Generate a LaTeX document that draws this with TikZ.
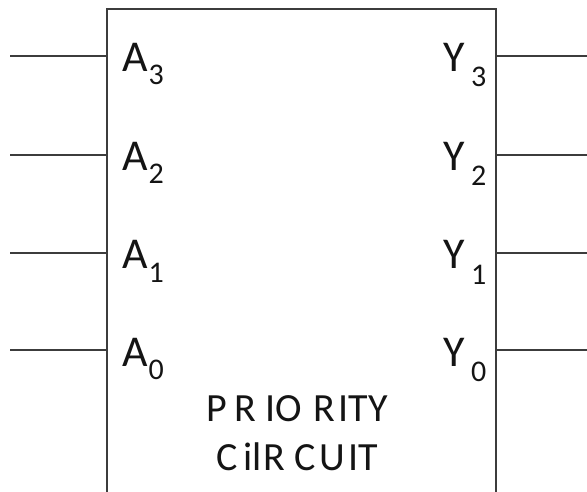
\documentclass[tikz,border=0pt]{standalone}
\usepackage{fontspec}
\setmainfont{Carlito}
\definecolor{wire}{HTML}{3C3C3C}
\definecolor{ink}{HTML}{141414}
\begin{document}
\begin{tikzpicture}[x=1pt,y=-1pt,
  wireline/.style={draw=wire,line width=1.6pt},
  big/.style={inner sep=0pt,anchor=base west,text=ink,font=\fontsize{44}{44}\selectfont},
  sub/.style={inner sep=0pt,anchor=base west,text=ink,font=\fontsize{30}{30}\selectfont},
  title/.style={inner sep=0pt,anchor=base,text=ink,font=\fontsize{40}{40}\selectfont}]
\useasboundingbox (0,0) rectangle (587,492);
\clip (0,0) rectangle (587,492);
% box (bottom runs off the picture)
\coordinate (bl) at (107,520);
\coordinate (tl) at (107,9);
\coordinate (tr) at (496,9);
\coordinate (br) at (496,520);
\draw[wireline] (bl) -- (tl) -- (tr) -- (br);
% pins
\foreach \i/\yy in {3/56,2/155,1/253,0/350}{
  \coordinate (in\i) at (10,\yy);
  \coordinate (pa\i) at (107,\yy);
  \coordinate (py\i) at (496,\yy);
  \coordinate (out\i) at (587,\yy);
  \draw[wireline] (in\i) -- (pa\i);
  \draw[wireline] (py\i) -- (out\i);
  \node[big] (A\i) at (122,\yy+16) {A};
  \node[sub] (As\i) at (148.5,\yy+29) {\i};
  \node[big] (Y\i) at (443,\yy+16) {Y};
  \node[sub] (Ys\i) at (471,\yy+31) {\i};
}
\node[title] (t1) at (297,421) {P\hspace{8pt}R\hspace{9pt}IO\hspace{11pt}R\hspace{4pt}ITY};
\node[title] (t2) at (297,470) {C\hspace{6pt}il\hspace{2pt}R\hspace{9pt}C\hspace{4pt}U\hspace{3pt}IT};
\end{tikzpicture}
\end{document}
